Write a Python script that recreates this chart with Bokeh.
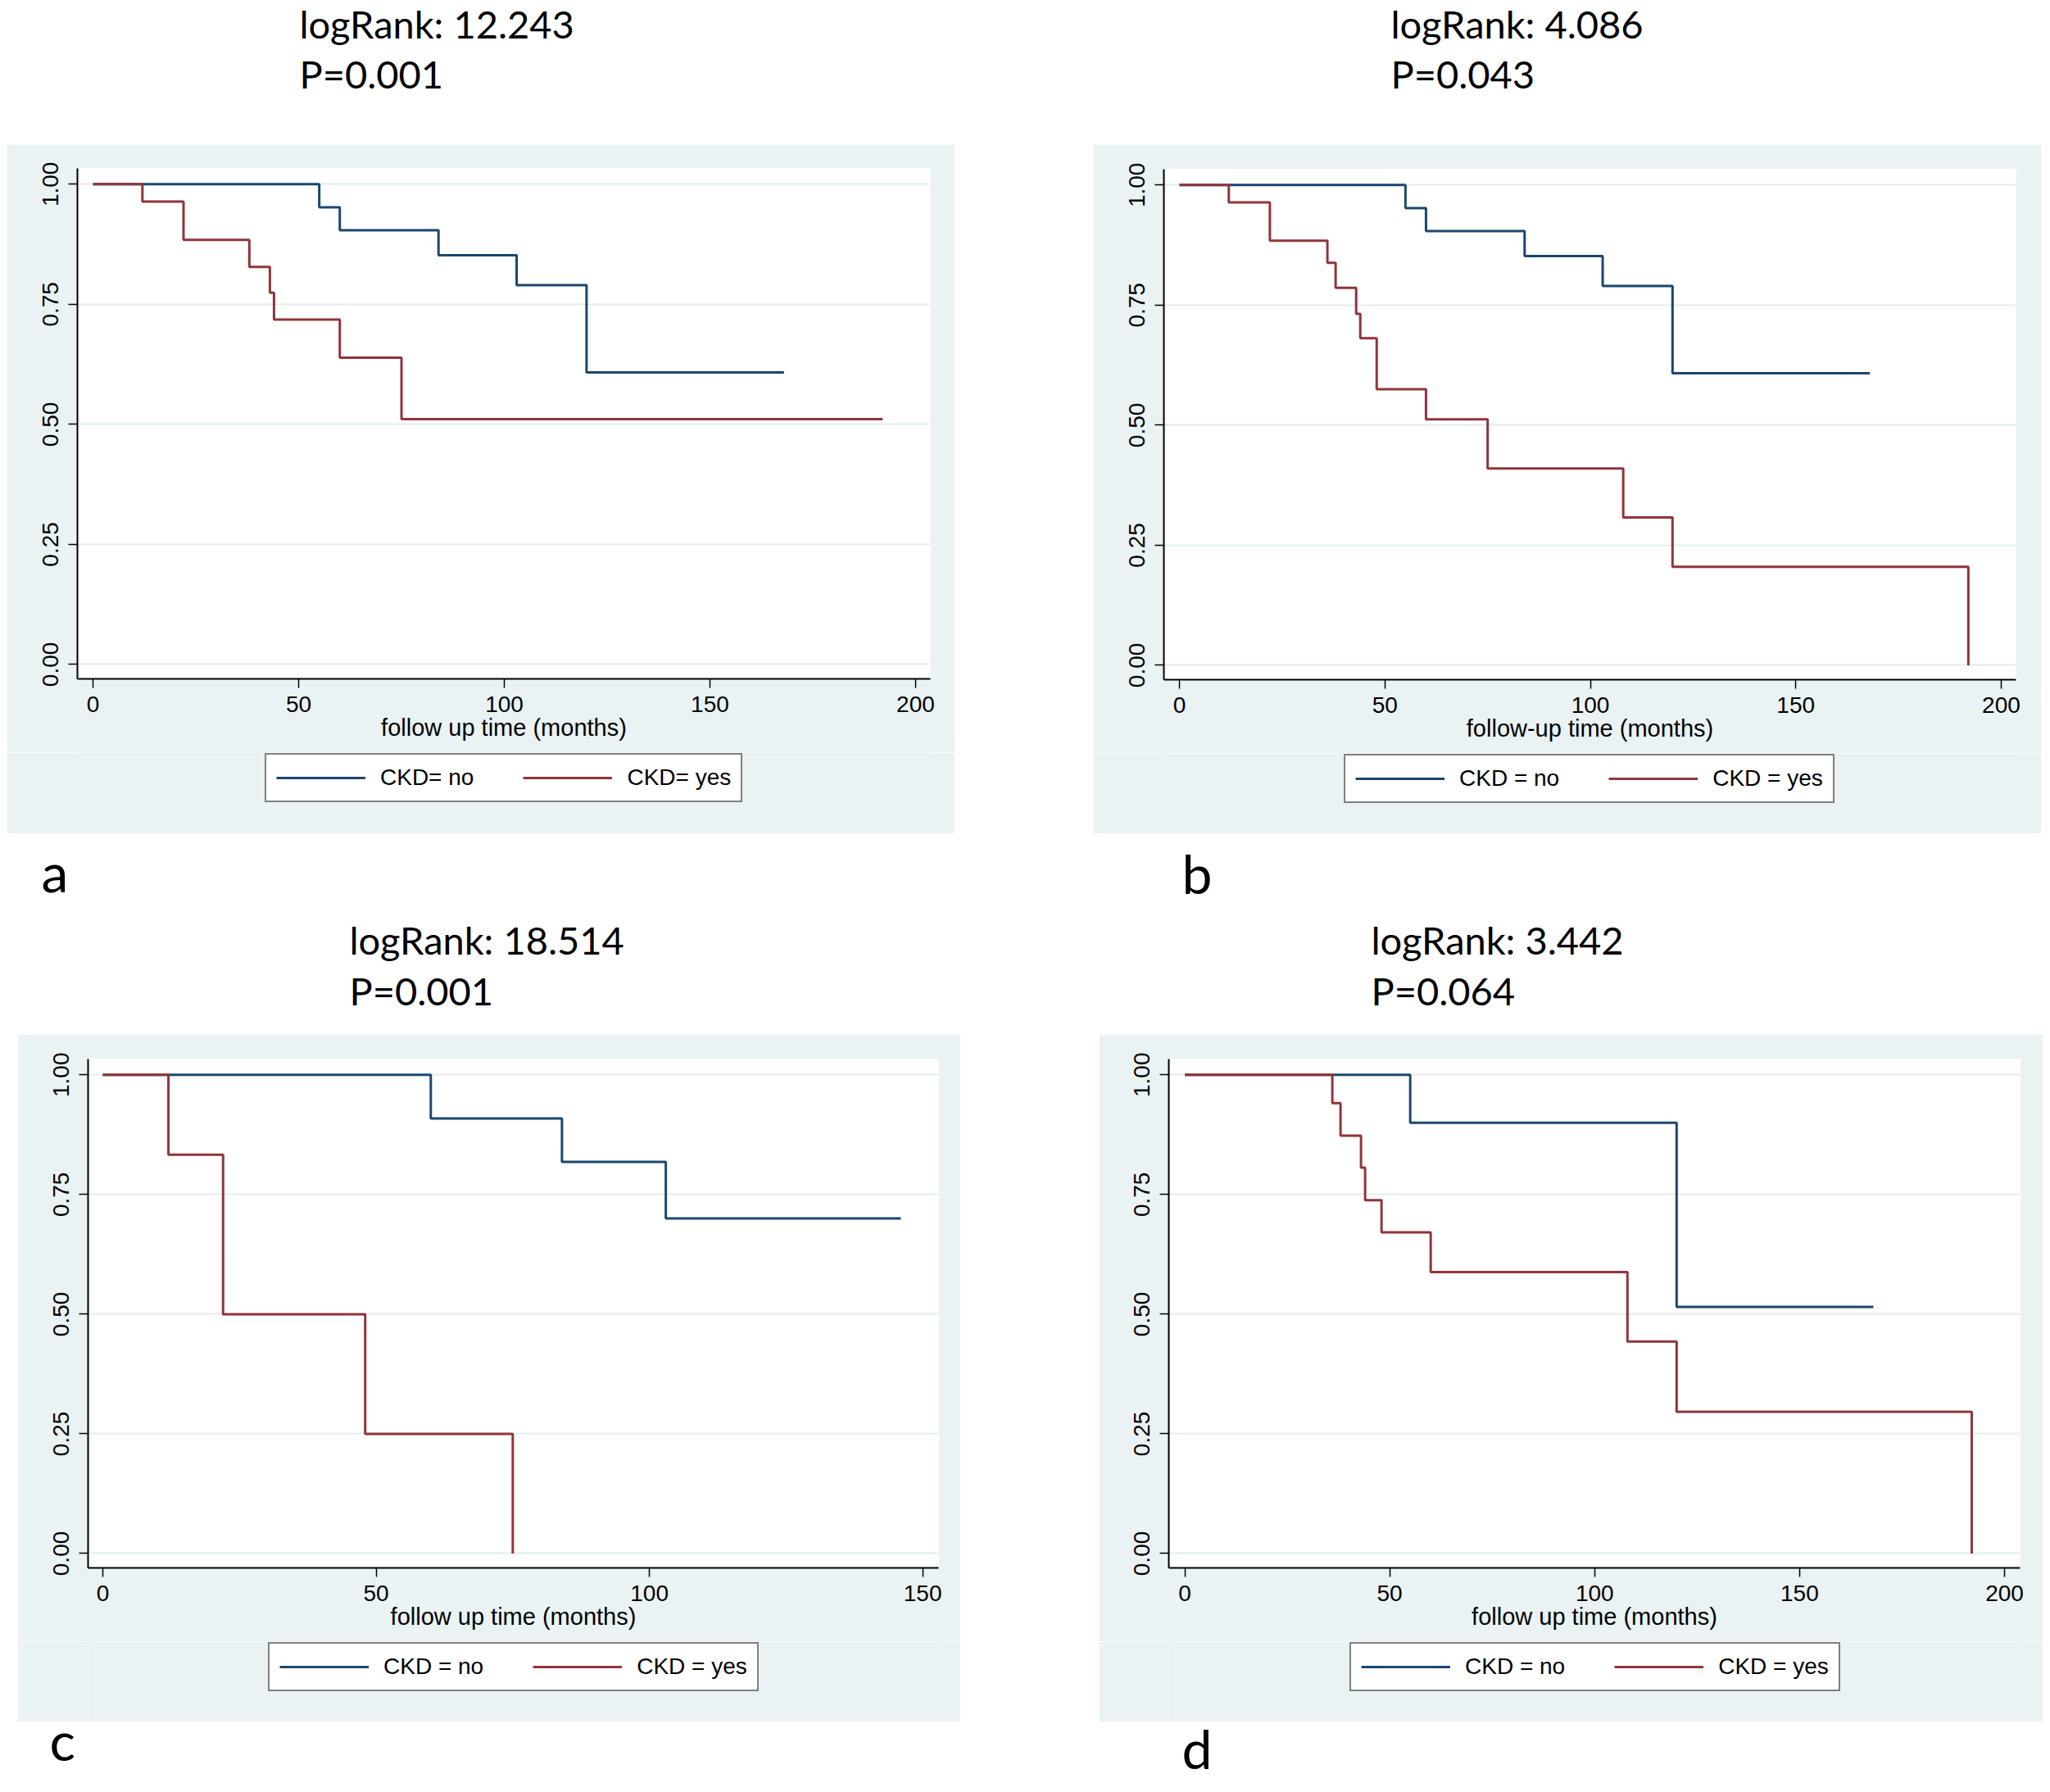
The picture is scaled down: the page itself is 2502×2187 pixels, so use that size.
from bokeh.plotting import figure
from bokeh.models import Range1d, FixedTicker, PrintfTickFormatter, Legend, LegendItem, Label, Spacer
from bokeh.layouts import column, row
from bokeh.embed import file_html
from bokeh.resources import INLINE

# ---------------- data (Kaplan-Meier step estimates) ----------------
a_no_t = [0, 55, 60, 84, 103, 120, 168]
a_no_s = [1.0, 0.952, 0.904, 0.852, 0.790, 0.608, 0.608]
a_yes_t = [0, 12, 22, 38, 43, 44, 60, 75, 192]
a_yes_s = [1.0, 0.964, 0.884, 0.828, 0.774, 0.718, 0.639, 0.511, 0.511]
b_no_t = [0, 55, 60, 84, 103, 120, 168]
b_no_s = [1.0, 0.952, 0.904, 0.852, 0.790, 0.608, 0.608]
b_yes_t = [0, 12, 22, 36, 38, 43, 44, 48, 60, 75, 108, 120, 192]
b_yes_s = [1.0, 0.964, 0.884, 0.838, 0.786, 0.732, 0.681, 0.575, 0.512, 0.410, 0.308, 0.205, 0.0]
c_no_t = [0, 60, 84, 103, 146]
c_no_s = [1.0, 0.909, 0.818, 0.700, 0.700]
c_yes_t = [0, 12, 22, 48, 75]
c_yes_s = [1.0, 0.833, 0.5, 0.25, 0.0]
d_no_t = [0, 55, 120, 168]
d_no_s = [1.0, 0.90, 0.515, 0.515]
d_yes_t = [0, 36, 38, 43, 44, 48, 60, 108, 120, 192]
d_yes_s = [1.0, 0.941, 0.873, 0.806, 0.738, 0.671, 0.588, 0.443, 0.296, 0.0]

y_ticks = [0.0, 0.25, 0.5, 0.75, 1.0]
x_ticks_200 = [0, 50, 100, 150, 200]
x_ticks_150 = [0, 50, 100, 150]

titles = [("logRank: 12.243", "P=0.001"), ("logRank: 4.086", "P=0.043"),
          ("logRank: 18.514", "P=0.001"), ("logRank: 3.442", "P=0.064")]
letters = ["a", "b", "c", "d"]
xlabels = ["follow up time (months)", "follow-up time (months)",
           "follow up time (months)", "follow up time (months)"]
legend_labels = [("CKD= no", "CKD= yes"), ("CKD = no", "CKD = yes"),
                 ("CKD = no", "CKD = yes"), ("CKD = no", "CKD = yes")]

NAVY = "#1A476F"
MAROON = "#90353B"
PANEL_BG = "#EAF2F3"
GRID = "#E4ECED"
AXFONT = "Liberation Sans"
TXFONT = "Lato"
W = 2502
TSIZE = 47
LSIZE = 66


def style_legend(leg):
    leg.border_line_color = "black"
    leg.border_line_width = 2
    leg.background_fill_color = "white"
    leg.background_fill_alpha = 1.0
    leg.glyph_width = 109
    leg.glyph_height = 30
    leg.label_text_font = AXFONT
    leg.label_text_font_size = "28px"
    leg.label_text_color = "black"
    leg.label_standoff = 18
    leg.spacing = 60
    leg.padding = 12
    leg.margin = 0


def base_fig(no_t, no_s, yes_t, yes_s, xr, xticks, xlabel, fw, fh, left, right, top, bottom):
    p = figure(frame_width=fw, frame_height=fh, x_range=Range1d(*xr), y_range=Range1d(-0.03, 1.033),
               output_backend="svg", toolbar_location=None,
               min_border_left=left, min_border_right=right,
               min_border_top=top, min_border_bottom=bottom,
               border_fill_color=PANEL_BG, background_fill_color="white",
               outline_line_color=None)
    p.step(no_t, no_s, mode="after", line_color=NAVY, line_width=3)
    p.step(yes_t, yes_s, mode="after", line_color=MAROON, line_width=3)
    p.xaxis.ticker = FixedTicker(ticks=xticks)
    p.yaxis.ticker = FixedTicker(ticks=y_ticks)
    p.yaxis.formatter = PrintfTickFormatter(format="%.2f")
    p.yaxis.major_label_orientation = "vertical"
    p.xaxis.axis_label = xlabel
    for ax in (p.xaxis, p.yaxis):
        ax.axis_line_color = "black"
        ax.axis_line_width = 2
        ax.major_tick_line_color = "black"
        ax.major_tick_line_width = 1.5
        ax.major_tick_out = 11
        ax.major_tick_in = 0
        ax.minor_tick_line_color = None
        ax.major_label_text_font = AXFONT
        ax.major_label_text_font_size = "28px"
        ax.major_label_text_color = "black"
        ax.axis_label_text_font = AXFONT
        ax.axis_label_text_font_size = "29px"
        ax.axis_label_text_font_style = "normal"
        ax.axis_label_text_color = "black"
    p.xaxis.major_label_standoff = 10
    p.yaxis.major_label_standoff = 12
    p.xaxis.axis_label_standoff = 0
    p.xgrid.grid_line_color = None
    p.ygrid.grid_line_color = GRID
    p.ygrid.grid_line_width = 2
    return p


def panel(no_t, no_s, yes_t, yes_s, xr, xticks, xlabel, labs, fw, fh, left, right, top,
          axis_h, total_h, total_w, leg_loc):
    p = base_fig(no_t, no_s, yes_t, yes_s, xr, xticks, xlabel, fw, fh, left, right, top, axis_h)
    # legend strip under the plot (the lines here sit outside its visible range; only the key shows)
    lh = total_h - top - fh - axis_h
    q = figure(width=total_w, height=lh, x_range=Range1d(*xr), y_range=Range1d(5, 6),
               output_backend="svg", toolbar_location=None, min_border=0,
               x_axis_location=None, y_axis_location=None,
               border_fill_color=PANEL_BG, background_fill_color=PANEL_BG,
               outline_line_color=None)
    q.grid.visible = False
    k_no = q.step(no_t, no_s, mode="after", line_color=NAVY, line_width=3)
    k_yes = q.step(yes_t, yes_s, mode="after", line_color=MAROON, line_width=3)
    leg = Legend(items=[LegendItem(label=labs[0], renderers=[k_no]),
                        LegendItem(label=labs[1], renderers=[k_yes])],
                 orientation="horizontal", location=leg_loc)
    style_legend(leg)
    q.add_layout(leg, "center")
    return column(p, q, spacing=0)


def band(h):
    f = figure(width=W, height=h, x_range=Range1d(0, W), y_range=Range1d(h, 0),
               output_backend="svg", toolbar_location=None, min_border=0,
               x_axis_location=None, y_axis_location=None,
               border_fill_color="white", background_fill_color="white",
               outline_line_color=None)
    f.grid.visible = False
    return f


def base_y(baseline, size):
    return baseline - 0.39 * size


def title_labels(f, x, b1, b2, t):
    for txt, b in ((t[0], b1), (t[1], b2)):
        f.add_layout(Label(x=x, y=base_y(b, TSIZE), text=txt, text_font=TXFONT,
                           text_font_size=f"{TSIZE}px", text_color="black",
                           text_baseline="alphabetic"))


def letter_label(f, x, b, t):
    f.add_layout(Label(x=x, y=base_y(b, LSIZE), text=t, text_font=TXFONT,
                       text_font_size=f"{LSIZE}px", text_color="black",
                       text_baseline="alphabetic"))


top_band = band(176)
title_labels(top_band, 365, 47, 108, titles[0])
title_labels(top_band, 1697, 47, 108, titles[1])

mid_band = band(245)
letter_label(mid_band, 50, 72, letters[0])
letter_label(mid_band, 1442, 74, letters[1])
title_labels(mid_band, 426, 148, 210, titles[2])
title_labels(mid_band, 1673, 148, 210, titles[3])

bot_band = band(86)
letter_label(bot_band, 60, 48, letters[2])
letter_label(bot_band, 1442, 58, letters[3])

pa = panel(a_no_t, a_no_s, a_yes_t, a_yes_s, (-3.8, 203.6), x_ticks_200, xlabels[0], legend_labels[0],
           1041, 623, 86, 30, 29, 90, 841, 1157, (229, 38))
pb = panel(b_no_t, b_no_s, b_yes_t, b_yes_s, (-3.8, 203.6), x_ticks_200, xlabels[1], legend_labels[1],
           1040, 623, 86, 31, 30, 90, 841, 1157, (220, 37))
pc = panel(c_no_t, c_no_s, c_yes_t, c_yes_s, (-2.7, 152.9), x_ticks_150, xlabels[2], legend_labels[2],
           1038, 621, 86, 27, 30, 90, 839, 1151, (220, 37))
pd = panel(d_no_t, d_no_s, d_yes_t, d_yes_s, (-3.9, 203.8), x_ticks_200, xlabels[3], legend_labels[3],
           1039, 621, 85, 28, 30, 90, 839, 1152, (221, 37))

row1 = row(Spacer(width=8, height=841), pa, Spacer(width=169, height=841), pb, spacing=0)
row2 = row(Spacer(width=21, height=839), pc, Spacer(width=169, height=839), pd, spacing=0)
layout = column(top_band, row1, mid_band, row2, bot_band, spacing=0)

open("out.html", "w").write(file_html(layout, INLINE))
